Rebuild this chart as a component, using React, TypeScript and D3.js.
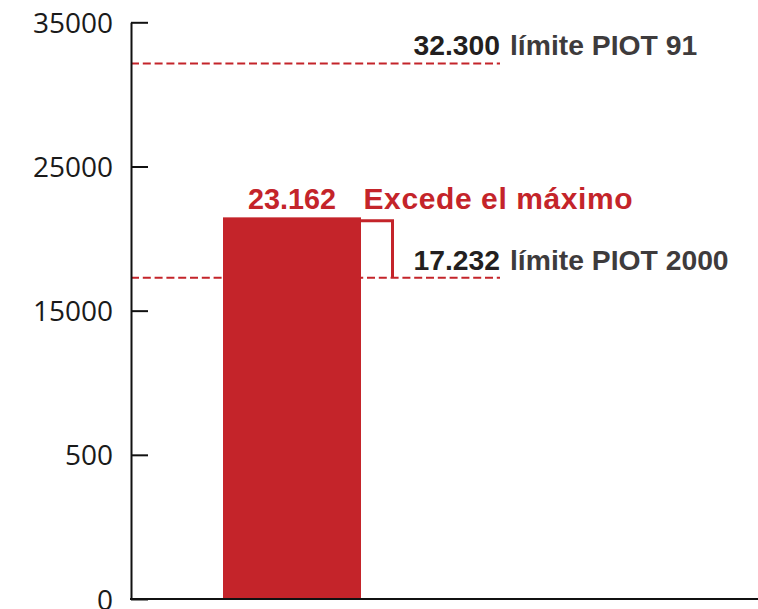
import React, { useEffect, useRef } from 'react';
import * as d3 from 'd3';

// eje Y: las etiquetas tal como aparecen en el original
const yTickLabels = ['0', '500', '15000', '25000', '35000'];
const yTickValues = [0, 8750, 17500, 26250, 35000];

// barra
const barCategories = ['Actual'];
const barValues = [23162];
const barLabels = ['23.162'];

// límites PIOT
const limitNumbers = ['32.300', '17.232'];
const limitNames = ['límite PIOT 91', 'límite PIOT 2000'];
const limitLevels = [32500, 19500];

const RED = '#c4242a';
const W = 758;
const H = 609;

const App: React.FC = () => {
  const svgRef = useRef<SVGSVGElement>(null);

  useEffect(() => {
    const svg = d3.select(svgRef.current);
    svg.selectAll('*').remove();

    const axisX = 131;
    const y = d3.scaleLinear().domain([0, 35000]).range([599, 22.3]);
    const x = d3.scaleBand<string>().domain(barCategories).range([axisX, 453]).padding(0.4);
    const lineEnd = 500;

    // líneas de límite (debajo de la barra)
    limitLevels.forEach((v, i) => {
      svg.append('line')
        .attr('x1', axisX)
        .attr('x2', lineEnd)
        .attr('y1', y(v))
        .attr('y2', y(v))
        .attr('stroke', RED)
        .attr('stroke-width', 2)
        .attr('stroke-dasharray', '8 3.8');

      svg.append('text')
        .attr('x', lineEnd)
        .attr('y', y(v) - 8)
        .attr('text-anchor', 'end')
        .attr('font-family', '"Liberation Sans", Arial, sans-serif')
        .attr('font-weight', 'bold')
        .attr('font-size', 28.3)
        .attr('fill', '#231f20')
        .text(limitNumbers[i]);

      svg.append('text')
        .attr('x', lineEnd + 10)
        .attr('y', y(v) - 8)
        .attr('font-family', '"Liberation Sans", Arial, sans-serif')
        .attr('font-weight', 'bold')
        .attr('font-size', 28.3)
        .attr('fill', '#3e3b3c')
        .text(limitNames[i]);
    });

    // barra
    svg.selectAll('.bar')
      .data(barValues)
      .enter()
      .append('rect')
      .attr('class', 'bar')
      .attr('x', (_, i) => x(barCategories[i]) || 0)
      .attr('width', x.bandwidth())
      .attr('y', d => y(d))
      .attr('height', d => y(0) - y(d))
      .attr('fill', RED);

    const barRight = (x(barCategories[0]) || 0) + x.bandwidth();
    const barTop = y(barValues[0]);

    // corchete del exceso
    svg.append('path')
      .attr('d', `M${barRight},${barTop + 3.3}H392.5V${y(limitLevels[1])}`)
      .attr('fill', 'none')
      .attr('stroke', RED)
      .attr('stroke-width', 3);

    svg.append('text')
      .attr('x', (x(barCategories[0]) || 0) + x.bandwidth() / 2)
      .attr('y', barTop - 8)
      .attr('text-anchor', 'middle')
      .attr('font-family', '"Liberation Sans", Arial, sans-serif')
      .attr('font-weight', 'bold')
      .attr('font-size', 28.8)
      .attr('fill', RED)
      .text(barLabels[0]);

    svg.append('text')
      .attr('x', barRight + 2.5)
      .attr('y', barTop - 8)
      .attr('font-family', '"Liberation Sans", Arial, sans-serif')
      .attr('font-weight', 'bold')
      .attr('font-size', 30)
      .attr('letter-spacing', 0.6)
      .attr('fill', RED)
      .text('Excede el máximo');

    // eje Y
    const axis = d3.axisRight(y)
      .tickValues(yTickValues)
      .tickSize(17)
      .tickSizeOuter(0)
      .tickFormat((_, i) => yTickLabels[i]);

    const gy = svg.append('g')
      .attr('transform', `translate(${axisX},0)`)
      .call(axis);

    gy.select('.domain').attr('stroke', '#111').attr('stroke-width', 2);
    gy.selectAll('.tick line').attr('stroke', '#111').attr('stroke-width', 2);
    gy.selectAll('.tick text')
      .attr('x', -18)
      .attr('dy', '0.36em')
      .attr('text-anchor', 'end')
      .attr('font-family', '"Open Sans", sans-serif')
      .attr('font-size', 28)
      .attr('fill', '#1a1a1a');

    // eje X (línea base)
    svg.append('line')
      .attr('x1', axisX - 1)
      .attr('x2', W)
      .attr('y1', y(0))
      .attr('y2', y(0))
      .attr('stroke', '#111')
      .attr('stroke-width', 2);
  }, []);

  return (
    <svg
      ref={svgRef}
      width={W}
      height={H}
      style={{ position: 'absolute', left: 0, top: 0, background: '#fff' }}
    />
  );
};

export default App;
